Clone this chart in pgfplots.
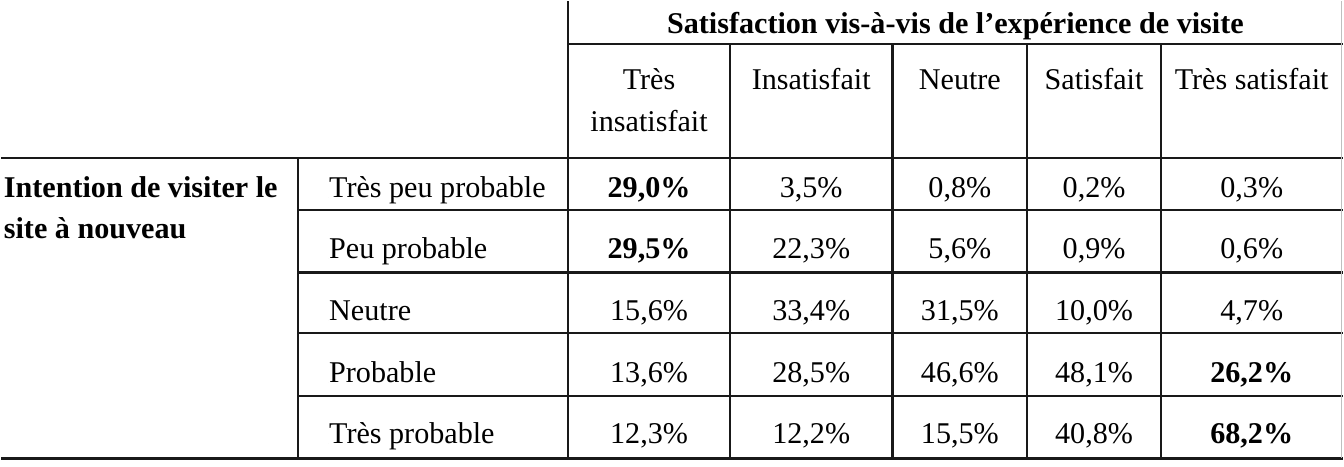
\documentclass[border=0pt]{standalone}
\usepackage{pgfplots}
\pgfplotsset{compat=1.18}
\usepackage{fontspec}
\setmainfont{Liberation Serif}

\begin{document}
\begin{tikzpicture}
\begin{axis}[
    x=0.5pt, y=0.5pt,
    xmin=0, xmax=1344, ymin=0, ymax=466,
    y dir=reverse,
    hide axis, clip=false,
    ln/.style={line width=1.1pt, black!90, mark=none, solid},
    txt/.style={only marks, mark=*, mark size=0pt, draw=none, fill=none,
        nodes near coords, point meta=explicit symbolic,
        every node near coord/.append style={black, inner sep=0pt,
            font=\fontsize{15.1}{17}\selectfont}},
]
% frame for the bounding box
\addplot[draw=none, mark=none] coordinates {(0,0) (1344,466)};

% grid lines
\addplot[ln] coordinates {(568,43) (1344,43)};
\addplot[ln] coordinates {(0,157) (1344,157)};
\addplot[ln] coordinates {(297,209) (1344,209)};
\addplot[ln] coordinates {(297,272) (1344,272)};
\addplot[ln] coordinates {(297,333) (1344,333)};
\addplot[ln] coordinates {(297,396) (1344,396)};
\addplot[ln, line width=1.5pt] coordinates {(0,458) (1344,458)};
\addplot[ln] coordinates {(568,0) (568,458)};
\addplot[ln] coordinates {(297,157) (297,458)};
\addplot[ln] coordinates {(730,43) (730,458)};
\addplot[ln] coordinates {(893,43) (893,458)};
\addplot[ln] coordinates {(1028,43) (1028,458)};
\addplot[ln] coordinates {(1162,43) (1162,458)};
\addplot[ln, line width=0.5pt, black!25] coordinates {(1343,0) (1343,458)};

% centred texts (headers and values)
\addplot[txt, nodes near coords align={anchor=base}] coordinates {
    (956,32) [\textbf{Satisfaction vis-à-vis de l’expérience de visite}]
    (649,89) [Très]
    (649,131) [insatisfait]
    (811.5,89) [Insatisfait]
    (960.5,89) [Neutre]
    (1095,89) [Satisfait]
    (1253,89) [Très satisfait]
    (649,197) [\textbf{29,0\%}]
    (811.5,197) [3,5\%]
    (960.5,197) [0,8\%]
    (1095,197) [0,2\%]
    (1253,197) [0,3\%]
    (649,258) [\textbf{29,5\%}]
    (811.5,258) [22,3\%]
    (960.5,258) [5,6\%]
    (1095,258) [0,9\%]
    (1253,258) [0,6\%]
    (649,320) [15,6\%]
    (811.5,320) [33,4\%]
    (960.5,320) [31,5\%]
    (1095,320) [10,0\%]
    (1253,320) [4,7\%]
    (649,382) [13,6\%]
    (811.5,382) [28,5\%]
    (960.5,382) [46,6\%]
    (1095,382) [48,1\%]
    (1253,382) [\textbf{26,2\%}]
    (649,443) [12,3\%]
    (811.5,443) [12,2\%]
    (960.5,443) [15,5\%]
    (1095,443) [40,8\%]
    (1253,443) [\textbf{68,2\%}]
};

% left-aligned texts (row labels)
\addplot[txt, nodes near coords align={anchor=base west}] coordinates {
    (2,197) [\textbf{Intention de visiter le}]
    (2,238) [\textbf{site à nouveau}]
    (328,197) [Très peu probable]
    (328,258) [Peu probable]
    (328,320) [Neutre]
    (328,382) [Probable]
    (328,443) [Très probable]
};
\end{axis}
\end{tikzpicture}
\end{document}
